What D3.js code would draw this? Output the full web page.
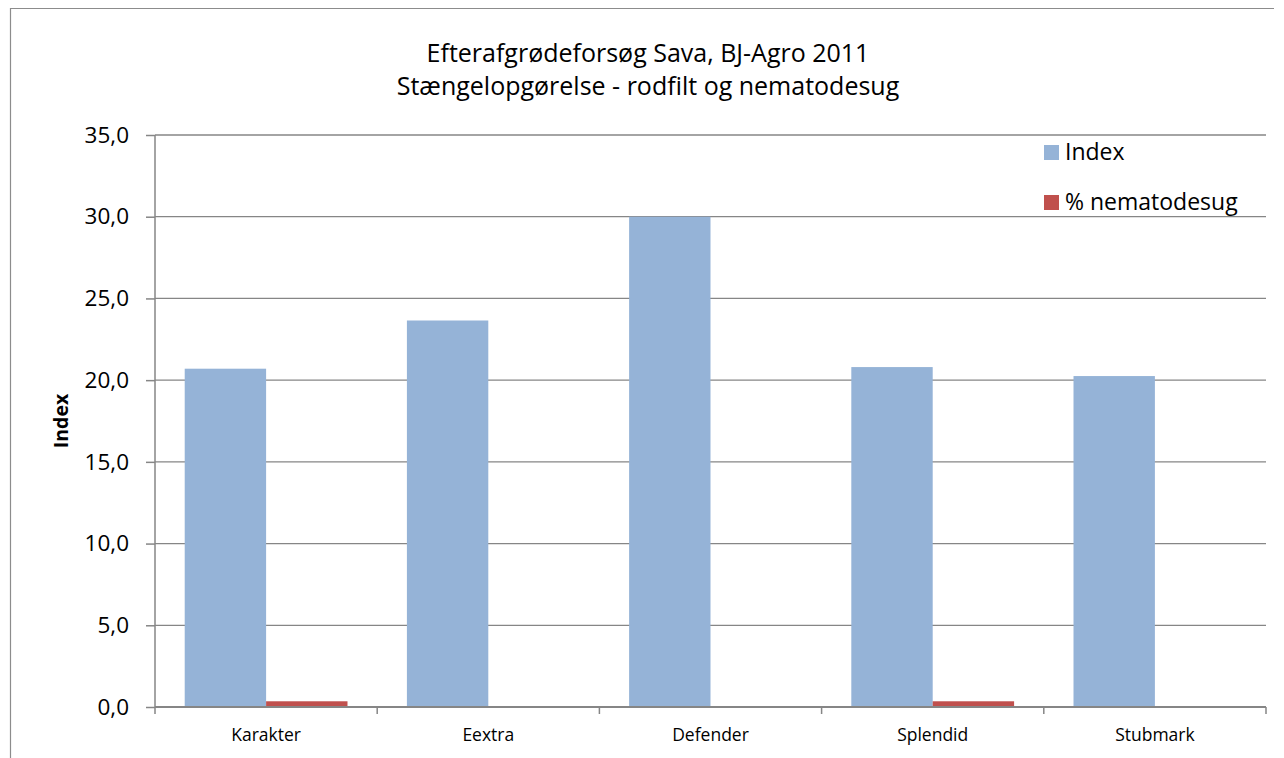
<!DOCTYPE html>
<html><head><meta charset="utf-8">
<script src="https://cdn.jsdelivr.net/npm/d3@7"></script>
<style>body{margin:0;background:#fff}svg{display:block}text{font-family:"Open Sans","Noto Sans",sans-serif;fill:#000}</style>
</head><body>
<script>
const categories = ["Karakter","Eextra","Defender","Splendid","Stubmark"];
const seriesNames = ["Index","% nematodesug"];
const indexValues = [20.7, 23.65, 30.0, 20.8, 20.25];
const nematodeValues = [0.35, 0, 0, 0.35, 0];
const yTicks = [0,5,10,15,20,25,30,35];
const titleLines = ["Efterafgrødeforsøg Sava, BJ-Agro 2011","Stængelopgørelse - rodfilt og nematodesug"];
const colors = ["#95B3D7","#C0504D"];

const W=1284,H=758;
const svg=d3.select("body").append("svg").attr("width",W).attr("height",H);
svg.append("path").attr("d",`M10.5,${H}V8.5H1274`).attr("fill","none")
  .attr("stroke","#8c8c8c").attr("stroke-width",1.2);

const m={l:155,r:1266,t:135,b:707};
const x=d3.scaleBand().domain(categories).range([m.l,m.r]);
const bw=x.bandwidth()/2.73;
const x1=d3.scaleBand().domain(seriesNames).range([0,2*bw]);
const y=d3.scaleLinear().domain([0,35]).range([m.b,m.t]);

// gridlines
svg.append("g").selectAll("line").data(yTicks.filter(d=>d>0)).join("line")
  .attr("x1",m.l).attr("x2",m.r).attr("y1",d=>y(d)).attr("y2",d=>y(d))
  .attr("stroke","#868686").attr("stroke-width",1.3);

// bars
const data=[indexValues,nematodeValues];
data.forEach((vals,si)=>{
  svg.append("g").selectAll("rect").data(categories).join("rect")
    .attr("x",(c)=>x(c)+(x.bandwidth()-2*bw)/2+x1(seriesNames[si]))
    .attr("width",x1.bandwidth())
    .attr("y",(c,i)=>y(vals[i]))
    .attr("height",(c,i)=>y(0)-y(vals[i]))
    .attr("fill",colors[si]);
});

// y axis
const ya=d3.axisLeft(y).tickValues(yTicks).tickFormat(d=>d3.format(".1f")(d).replace(".",",")).tickSize(9).tickPadding(17);
const gy=svg.append("g").attr("transform",`translate(${m.l},0)`).call(ya);
gy.selectAll("path,line").attr("stroke","#868686").attr("stroke-width",1.5);
gy.select("path").attr("d",`M0,${m.t}V${m.b}`);
gy.selectAll("text").attr("font-size",22.5).style("font-family",'"Open Sans",sans-serif').attr("fill","#000");

// x axis
const xa=d3.axisBottom(x).tickSize(0).tickPadding(20);
const gx=svg.append("g").attr("transform",`translate(0,${m.b})`).call(xa);
gx.select("path").attr("d",`M${m.l},0H${m.r}`).attr("stroke","#868686").attr("stroke-width",2);
gx.selectAll("text").attr("y",34).attr("dy",0).attr("font-size",17.5).style("font-family",'"Open Sans",sans-serif').attr("fill","#000");
const bounds=categories.map(c=>x(c)).concat([m.r]);
svg.append("g").selectAll("line").data(bounds).join("line")
  .attr("x1",d=>d).attr("x2",d=>d).attr("y1",m.b).attr("y2",m.b+7)
  .attr("stroke","#868686").attr("stroke-width",1.5);

// titles
svg.append("g").selectAll("text").data(titleLines).join("text")
  .attr("x",648).attr("y",(d,i)=>62+i*33).attr("text-anchor","middle").attr("font-size",25).text(d=>d);

svg.append("text").attr("transform",`translate(68,${(m.t+m.b)/2}) rotate(-90)`)
  .attr("text-anchor","middle").attr("font-size",19.5).attr("font-weight","bold").text("Index");

// legend
const lg=svg.append("g").selectAll("g").data(seriesNames).join("g")
  .attr("transform",(d,i)=>`translate(1044,${145+i*50})`);
lg.append("rect").attr("width",15).attr("height",15).attr("fill",(d,i)=>colors[i]);
lg.append("text").attr("x",21).attr("y",15).attr("font-size",23).text(d=>d);
</script>
</body></html>
